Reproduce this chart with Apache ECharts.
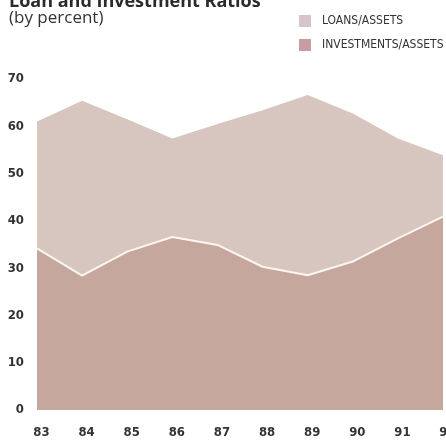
<!DOCTYPE html>
<html><head><meta charset="utf-8">
<script src="https://cdn.jsdelivr.net/npm/echarts@6/dist/echarts.min.js"></script>
<style>html,body{margin:0;padding:0;background:#fff}#c{width:446px;height:442px}</style>
</head><body><div id="c"></div>
<script>
const years = ['83','84','85','86','87','88','89','90','91','92'];
const loansAssets = [61, 65.4, 61.5, 57.4, 60.5, 63.4, 66.6, 62.7, 57.4, 53.9];
const investmentsAssets = [34.2, 28.4, 33.5, 36.6, 34.9, 30.3, 28.5, 31.4, 36.3, 40.9];
const yTicks = [0, 10, 20, 30, 40, 50, 60, 70];

const chart = echarts.init(document.getElementById('c'), null, {renderer: 'canvas'});
const narrow = '"Liberation Sans Narrow", "DejaVu Sans Condensed", sans-serif';
chart.setOption({
  animation: false,
  backgroundColor: '#fff',
  title: [
    {text: 'Loan and Investment Ratios', left: 4, top: -12,
     textStyle: {fontFamily: '"Open Sans", sans-serif', fontWeight: 'bold', fontSize: 18, color: '#2a2a2a'}},
    {text: '(by percent)', left: 4, top: 5,
     textStyle: {fontFamily: '"Open Sans", sans-serif', fontWeight: 'normal', fontSize: 17, color: '#333'}}
  ],
  legend: {
    orient: 'vertical', left: 294, top: 10, itemWidth: 12, itemHeight: 12, itemGap: 12,
    icon: 'rect',
    textStyle: {fontFamily: narrow, fontSize: 12, color: '#333', padding: [0, 0, 0, 6]},
    data: [
      {name: 'LOANS/ASSETS', itemStyle: {color: '#d7c4c8'}},
      {name: 'INVESTMENTS/ASSETS', itemStyle: {color: '#c99ca3'}}
    ]
  },
  grid: {left: 37, right: 3, top: 79, bottom: 32, containLabel: false, outerBoundsMode: 'none'},
  xAxis: {
    type: 'category', data: years, boundaryGap: false,
    axisLine: {show: false}, axisTick: {show: false}, splitLine: {show: false},
    axisLabel: {margin: 16, fontFamily: narrow, fontWeight: 'bold', fontSize: 13, color: '#333', padding: [0, 0, 0, 9]}
  },
  yAxis: {
    type: 'value', min: 0, max: 70, interval: 10,
    axisLine: {show: false}, axisTick: {show: false}, splitLine: {show: false},
    axisLabel: {margin: 13, fontFamily: narrow, fontWeight: 'bold', fontSize: 13, color: '#333',
      formatter: v => yTicks.includes(v) ? String(v) : ''}
  },
  series: [
    {name: 'LOANS/ASSETS', type: 'line', data: loansAssets, symbol: 'none',
     lineStyle: {width: 0, color: '#d7c5c0'}, itemStyle: {color: '#d7c4c8'},
     areaStyle: {color: '#d7c5c0', opacity: 1}, z: 1},
    {name: 'INVESTMENTS/ASSETS', type: 'line', data: investmentsAssets, symbol: 'none',
     lineStyle: {width: 2, color: '#fdf6ee'}, itemStyle: {color: '#c99ca3'},
     areaStyle: {color: '#c5a79d', opacity: 1}, z: 2}
  ]
});
</script></body></html>
